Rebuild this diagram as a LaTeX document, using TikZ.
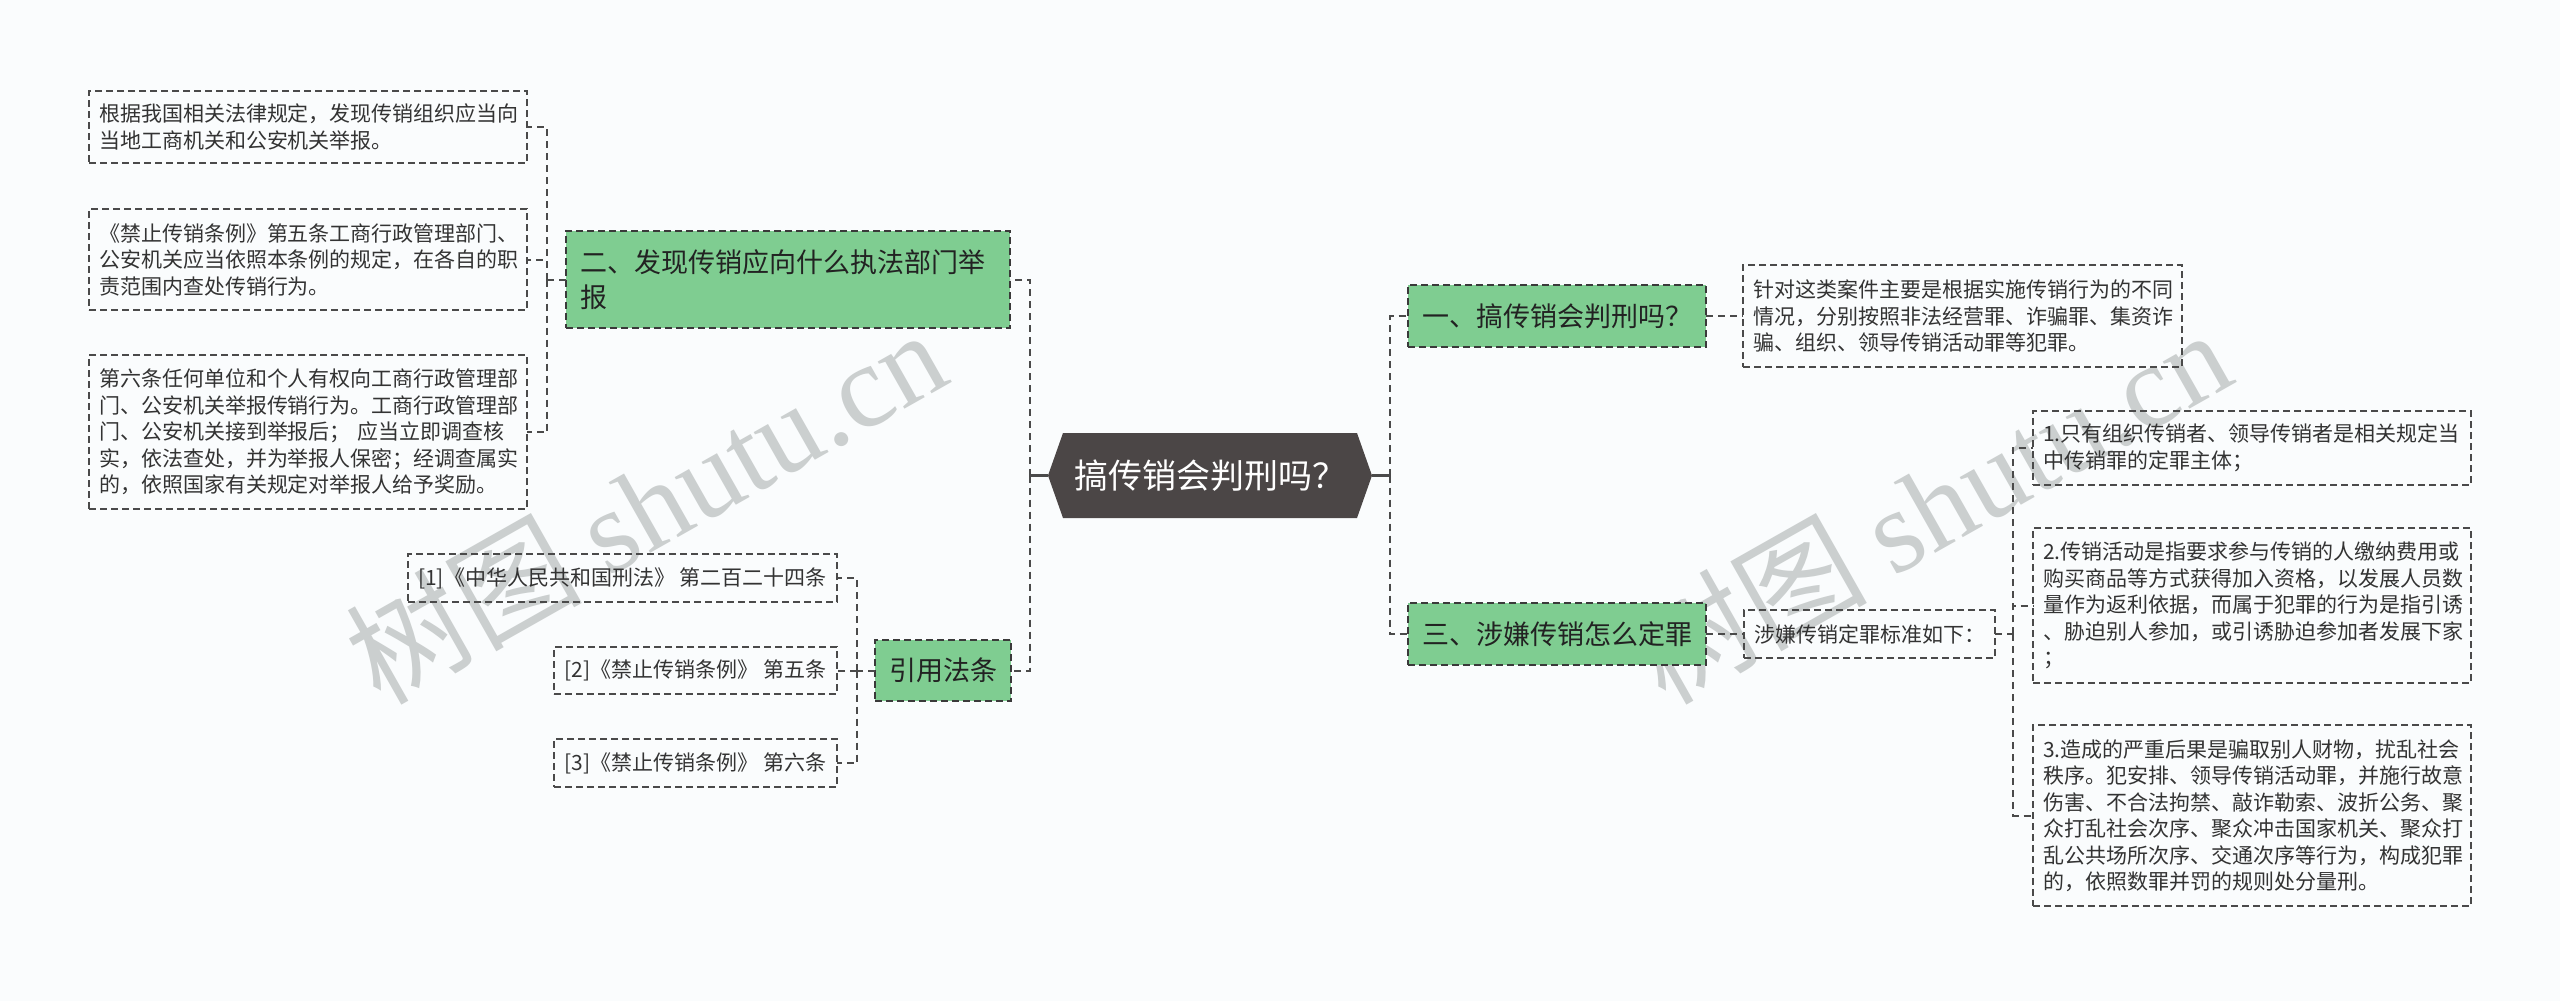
\documentclass[tikz,border=0pt]{standalone}
\usepackage{fontspec}
\setmainfont{Noto Sans CJK SC}
\newfontfamily\wmserif{Liberation Serif}
\definecolor{bgc}{HTML}{FAFCFD}
\definecolor{greenc}{HTML}{7FCD91}
\definecolor{hexc}{HTML}{4B4646}
\definecolor{linec}{HTML}{4A4A4A}
\definecolor{gborder}{HTML}{3A3A3A}
\definecolor{txtc}{HTML}{333333}
\definecolor{gtxt}{HTML}{222222}
\definecolor{wmc}{RGB}{203,207,207}
\tikzset{
  conn/.style={draw=linec, line width=2pt, dash pattern=on 7pt off 5pt},
  solidconn/.style={draw=linec, line width=2.5pt},
  tbox/.style={draw=linec, line width=1.6pt, dash pattern=on 7pt off 4pt,
    inner xsep=10pt, inner ysep=0pt, outer sep=0pt, align=left, text=txtc,
    font=\fontsize{21}{26.5}\selectfont},
  gbox/.style={draw=gborder, fill=greenc, line width=1.6pt, dash pattern=on 7pt off 4pt,
    inner xsep=14pt, inner ysep=0pt, outer sep=0pt, align=left, text=gtxt,
    font=\fontsize{27}{35}\selectfont},
  hextext/.style={inner sep=0pt, outer sep=0pt, text=white,
    font=\fontsize{34}{40}\selectfont},
  wm/.style={text=wmc, inner sep=0pt,
    font=\fontsize{118}{128}\selectfont},
}
\begin{document}
\begin{tikzpicture}[x=1pt,y=-1pt]
\useasboundingbox (0,0) rectangle (2560,1001);
\fill[bgc] (0,0) rectangle (2560,1001);

% watermarks (behind the diagram)
\node[wm, rotate=29.5] (wm1) at (645,505) {树图 {\wmserif shutu.cn}};
\node[wm, rotate=29.5] (wm2) at (1930,505) {树图 {\wmserif shutu.cn}};

% left boxes
\node[tbox, minimum width=438pt, minimum height=72pt, text width=418pt] (L1) at (308,127)
 {根据我国相关法律规定，发现传销组织应当向\\当地工商机关和公安机关举报。};
\node[tbox, minimum width=438pt, minimum height=101pt, text width=418pt] (L2) at (308,259.5)
 {《禁止传销条例》第五条工商行政管理部门、\\公安机关应当依照本条例的规定，在各自的职\\责范围内查处传销行为。};
\node[tbox, minimum width=438pt, minimum height=154pt, text width=418pt] (L3) at (308,432)
 {第六条任何单位和个人有权向工商行政管理部\\门、公安机关举报传销行为。工商行政管理部\\门、公安机关接到举报后； 应当立即调查核\\实，依法查处，并为举报人保密；经调查属实\\的，依照国家有关规定对举报人给予奖励。};

\node[gbox, minimum width=444pt, minimum height=97pt, text width=416pt] (G2) at (788,279.5)
 {二、发现传销应向什么执法部门举\\报};

% citations
\node[tbox, minimum width=429pt, minimum height=48pt, align=center] (C1) at (622.5,578)
 {[1]《中华人民共和国刑法》 第二百二十四条};
\node[tbox, minimum width=283pt, minimum height=47pt, align=center] (C2) at (695.5,670.5)
 {[2]《禁止传销条例》 第五条};
\node[tbox, minimum width=283pt, minimum height=48pt, align=center] (C3) at (695.5,763)
 {[3]《禁止传销条例》 第六条};
\node[gbox, minimum width=134pt, minimum height=61pt, align=center] (G4) at (943,670.5) {引用法条};

% central hexagon
\fill[hexc] (1048,475.5) -- (1063,433) -- (1357,433) -- (1372,475.5) -- (1357,518) -- (1063,518) -- cycle;
\node[hextext, minimum width=324pt, minimum height=85pt] (hex) at (1210,475.5) {搞传销会判刑吗？};

% right side
\node[gbox, minimum width=296pt, minimum height=62pt, align=center] (G1) at (1557,316) {一、搞传销会判刑吗？};
\node[gbox, minimum width=296pt, minimum height=62pt, align=center] (G3) at (1557,634) {三、涉嫌传销怎么定罪};
\node[tbox, minimum width=439pt, minimum height=102pt, text width=419pt] (T1) at (1962.5,316)
 {针对这类案件主要是根据实施传销行为的不同\\情况，分别按照非法经营罪、诈骗罪、集资诈\\骗、组织、领导传销活动罪等犯罪。};
\node[tbox, minimum width=251pt, minimum height=48pt, text width=231pt] (S) at (1869.5,634)
 {涉嫌传销定罪标准如下：};
\node[tbox, minimum width=438pt, minimum height=74pt, text width=418pt] (R1) at (2252,448)
 {1.只有组织传销者、领导传销者是相关规定当\\中传销罪的定罪主体；};
\node[tbox, minimum width=438pt, minimum height=155pt, text width=418pt] (R2) at (2252,605.5)
 {2.传销活动是指要求参与传销的人缴纳费用或\\购买商品等方式获得加入资格，以发展人员数\\量作为返利依据，而属于犯罪的行为是指引诱\\、胁迫别人参加，或引诱胁迫参加者发展下家\\；};
\node[tbox, minimum width=438pt, minimum height=181pt, text width=418pt] (R3) at (2252,815.5)
 {3.造成的严重后果是骗取别人财物，扰乱社会\\秩序。犯安排、领导传销活动罪，并施行故意\\伤害、不合法拘禁、敲诈勒索、波折公务、聚\\众打乱社会次序、聚众冲击国家机关、聚众打\\乱公共场所次序、交通次序等行为，构成犯罪\\的，依照数罪并罚的规则处分量刑。};

% junctions
\coordinate (jL) at (1030,475.5);
\coordinate (jR) at (1390,475.5);
\coordinate (j2) at (547,279.5);
\coordinate (j4) at (857,670.5);
\coordinate (jS) at (2013,634);

% connectors
\draw[solidconn] (hex.west) -- (jL);
\draw[solidconn] (hex.east) -- (jR);
\draw[conn] (jL) |- (G2.east);
\draw[conn] (jL) |- (G4.east);
\draw[conn] (jR) |- (G1.west);
\draw[conn] (jR) |- (G3.west);
\draw[conn] (G2.west) -- (j2);
\draw[conn] (j2) |- (L1.east);
\draw[conn] (j2) |- (L2.east);
\draw[conn] (j2) |- (L3.east);
\draw[conn] (G4.west) -- (j4);
\draw[conn] (j4) |- (C1.east);
\draw[conn] (j4) |- (C2.east);
\draw[conn] (j4) |- (C3.east);
\draw[conn] (G1.east) -- (T1.west);
\draw[conn] (G3.east) -- (S.west);
\draw[conn] (S.east) -- (jS);
\draw[conn] (jS) |- (R1.west);
\draw[conn] (jS) |- (R2.west);
\draw[conn] (jS) |- (R3.west);
\end{tikzpicture}
\end{document}
